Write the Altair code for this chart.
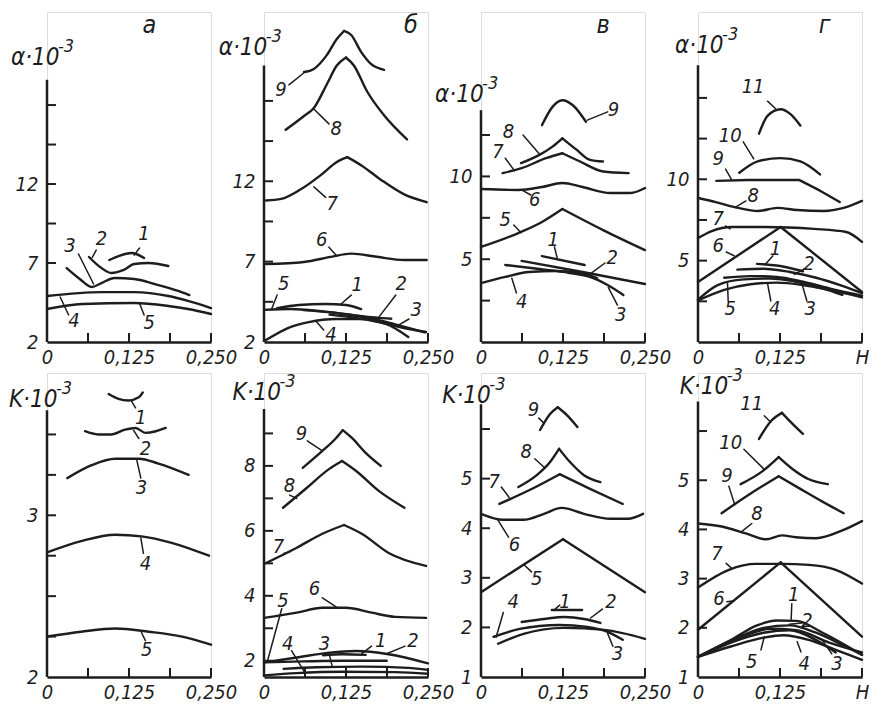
import altair as alt
import pandas as pd

FONT = "Liberation Sans Narrow, DejaVu Sans Condensed, Liberation Sans, sans-serif"
INK = "#1d1d1d"

# ---------------- data: top row (alpha * 10^-3) ----------------
A_ALPHA = {
    "1": ([0.095, 0.109, 0.129, 0.148], [7.19, 7.44, 7.63, 7.32]),
    "2": ([0.064, 0.083, 0.098, 0.117, 0.133, 0.155, 0.185], [7.38, 6.68, 6.37, 6.56, 6.94, 7.0, 6.81]),
    "3": ([0.030, 0.050, 0.068, 0.083, 0.103, 0.133, 0.164, 0.2, 0.217], [6.68, 5.99, 5.48, 5.73, 6.05, 5.99, 5.67, 5.23, 4.97]),
    "4": ([0.0, 0.083, 0.133, 0.185, 0.215, 0.25], [4.91, 5.16, 5.16, 4.91, 4.6, 4.15]),
    "5": ([0.0, 0.054, 0.133, 0.185, 0.215, 0.25], [4.09, 4.41, 4.47, 4.28, 4.09, 3.77]),
}
A_ALPHA_LABELS = [
    ("1", 0.148, 8.84, 0.141, 7.95, 0.133, 7.5),
    ("2", 0.083, 8.52, 0.075, 7.82, 0.069, 7.35),
    ("3", 0.035, 8.08, 0.048, 7.57, 0.071, 5.67),
    ("4", 0.041, 3.33, 0.033, 3.71, 0.020, 4.85),
    ("5", 0.156, 3.2, 0.148, 3.71, 0.141, 4.45),
]

B_ALPHA = {
    "9": ([0.061, 0.076, 0.096, 0.111, 0.122, 0.133, 0.148, 0.163, 0.183], [18.8, 18.99, 19.86, 20.85, 21.35, 21.1, 20.05, 19.3, 18.93]),
    "8": ([0.033, 0.061, 0.076, 0.096, 0.111, 0.125, 0.137, 0.157, 0.183, 0.218], [15.2, 16.06, 16.56, 18.05, 19.2, 19.7, 19.2, 17.6, 16.1, 14.6]),
    "7": ([0.003, 0.026, 0.056, 0.087, 0.111, 0.127, 0.148, 0.178, 0.213, 0.248], [10.8, 10.9, 11.5, 12.4, 13.2, 13.5, 13.0, 12.1, 11.2, 10.7]),
    "6": ([0.003, 0.061, 0.102, 0.133, 0.172, 0.213, 0.248], [6.85, 6.98, 7.3, 7.5, 7.3, 7.1, 7.1]),
    "5": ([0.0, 0.04, 0.08, 0.12, 0.16, 0.2, 0.245], [4.0, 4.05, 3.95, 3.75, 3.5, 3.1, 2.6]),
    "1": ([0.02, 0.053, 0.094, 0.125, 0.148], [4.1, 4.3, 4.36, 4.3, 4.05]),
    "2": ([0.06, 0.1, 0.14, 0.175, 0.194], [3.98, 3.85, 3.65, 3.5, 3.45]),
    "3": ([0.1, 0.14, 0.18, 0.21, 0.247], [3.7, 3.5, 3.2, 2.9, 2.62]),
    "4": ([0.003, 0.04, 0.068, 0.11, 0.145, 0.186, 0.22], [2.12, 2.93, 3.24, 3.43, 3.43, 3.12, 2.31]),
}
B_ALPHA_LABELS = [
    ("9", 0.026, 17.68, 0.038, 18.0, 0.061, 18.75),
    ("8", 0.110, 15.25, 0.099, 15.57, 0.076, 16.5),
    ("7", 0.104, 10.6, 0.094, 11.0, 0.076, 11.65),
    ("6", 0.088, 8.35, 0.099, 7.9, 0.111, 7.35),
    ("5", 0.030, 5.6, 0.020, 4.92, 0.012, 4.08),
    ("1", 0.142, 5.55, 0.133, 4.92, 0.117, 4.35),
    ("2", 0.209, 5.6, 0.201, 4.92, 0.175, 3.55),
    ("3", 0.232, 4.0, 0.221, 3.43, 0.203, 3.0),
    ("4", 0.102, 2.44, 0.091, 2.75, 0.079, 3.3),
]

C_ALPHA = {
    "9": ([0.093, 0.109, 0.124, 0.140, 0.160], [13.1, 14.2, 14.6, 14.3, 13.3]),
    "8": ([0.061, 0.089, 0.109, 0.124, 0.146, 0.166, 0.186], [10.8, 11.3, 11.8, 12.3, 11.6, 11.0, 10.9]),
    "7": ([0.033, 0.062, 0.099, 0.124, 0.151, 0.186, 0.225], [10.2, 10.5, 11.1, 11.4, 10.9, 10.3, 10.2]),
    "6": ([0.0, 0.057, 0.093, 0.124, 0.155, 0.197, 0.228, 0.25], [9.24, 9.18, 9.36, 9.6, 9.36, 9.0, 9.0, 9.3]),
    "5": ([0.0, 0.057, 0.093, 0.124, 0.186, 0.25], [5.74, 6.58, 7.25, 8.03, 6.76, 5.55]),
    "4": ([0.0, 0.037, 0.073, 0.115, 0.151, 0.177], [3.56, 3.93, 4.23, 4.29, 4.17, 3.86]),
    "3": ([0.037, 0.089, 0.135, 0.166, 0.193, 0.217], [4.65, 4.41, 4.17, 3.93, 3.44, 2.84]),
    "2": ([0.062, 0.155, 0.25], [4.9, 4.23, 3.5]),
    "1": ([0.093, 0.158], [5.19, 4.65]),
}
C_ALPHA_LABELS = [
    ("9", 0.202, 14.0, 0.193, 13.9, 0.162, 13.4),
    ("8", 0.042, 12.7, 0.064, 12.5, 0.089, 11.35),
    ("7", 0.026, 11.5, 0.037, 11.1, 0.051, 10.35),
    ("6", 0.082, 8.57, 0.076, 8.88, 0.061, 9.2),
    ("5", 0.037, 7.37, 0.050, 7.07, 0.061, 6.6),
    ("1", 0.110, 6.16, 0.112, 5.74, 0.116, 5.1),
    ("2", 0.200, 5.07, 0.189, 4.77, 0.166, 4.1),
    ("3", 0.213, 1.63, 0.208, 2.23, 0.194, 3.3),
    ("4", 0.062, 2.42, 0.054, 2.96, 0.047, 3.85),
]

D_ALPHA = {
    "11": ([0.093, 0.106, 0.126, 0.141, 0.156], [12.8, 13.9, 14.3, 14.0, 13.3]),
    "10": ([0.063, 0.091, 0.126, 0.156, 0.186], [10.4, 11.1, 11.3, 11.1, 10.3]),
    "9": ([0.028, 0.076, 0.154, 0.186, 0.216], [9.9, 9.96, 9.96, 9.3, 8.6]),
    "8": ([0.0, 0.027, 0.061, 0.091, 0.121, 0.151, 0.192, 0.222, 0.25], [8.85, 8.6, 8.24, 8.05, 8.24, 8.11, 8.05, 8.24, 8.67]),
    "7": ([0.0, 0.021, 0.051, 0.102, 0.177, 0.226, 0.25], [6.39, 6.82, 7.07, 7.07, 6.95, 6.76, 6.15]),
    "6": ([0.0, 0.126, 0.25], [3.69, 7.07, 3.07]),
    "1": ([0.09, 0.12, 0.16], [4.8, 4.7, 4.35]),
    "2": ([0.06, 0.1, 0.14, 0.18, 0.22, 0.25], [4.45, 4.5, 4.3, 3.95, 3.45, 3.0]),
    "3": ([0.04, 0.08, 0.12, 0.16, 0.2, 0.25], [3.95, 4.05, 4.0, 3.7, 3.3, 2.85]),
    "4": ([0.0, 0.04, 0.08, 0.12, 0.16, 0.2, 0.25], [2.55, 3.2, 3.55, 3.65, 3.5, 3.2, 2.75]),
    "5": ([0.0, 0.03, 0.07, 0.11, 0.15, 0.19, 0.22], [2.6, 3.5, 3.85, 3.9, 3.7, 3.3, 2.9]),
}
D_ALPHA_LABELS = [
    ("11", 0.084, 15.67, 0.106, 14.8, 0.118, 14.35),
    ("10", 0.049, 12.66, 0.069, 12.3, 0.085, 11.25),
    ("9", 0.031, 11.25, 0.042, 10.63, 0.051, 10.0),
    ("8", 0.084, 8.97, 0.073, 8.67, 0.058, 8.3),
    ("7", 0.031, 7.56, 0.042, 7.13, 0.049, 6.95),
    ("6", 0.031, 5.9, 0.043, 5.53, 0.055, 5.3),
    ("1", 0.118, 5.72, 0.114, 5.29, 0.103, 4.8),
    ("2", 0.169, 4.79, 0.162, 4.49, 0.147, 4.15),
    ("3", 0.171, 2.03, 0.166, 2.52, 0.159, 3.5),
    ("4", 0.117, 2.03, 0.111, 2.52, 0.106, 3.6),
    ("5", 0.049, 2.03, 0.046, 2.52, 0.045, 3.6),
]

# ---------------- data: bottom row (K * 10^-3) ----------------
A_K = {
    "1": ([0.094, 0.109, 0.124, 0.14, 0.146], [3.75, 3.72, 3.71, 3.73, 3.76]),
    "2": ([0.058, 0.078, 0.098, 0.119, 0.135, 0.15, 0.166, 0.181], [3.52, 3.5, 3.5, 3.53, 3.54, 3.51, 3.52, 3.54]),
    "3": ([0.031, 0.068, 0.104, 0.14, 0.17, 0.216], [3.23, 3.31, 3.35, 3.35, 3.32, 3.25]),
    "4": ([0.0, 0.052, 0.104, 0.144, 0.19, 0.247], [2.77, 2.84, 2.88, 2.87, 2.83, 2.75]),
    "5": ([0.0, 0.052, 0.104, 0.155, 0.206, 0.25], [2.25, 2.28, 2.3, 2.28, 2.25, 2.2]),
}
A_K_LABELS = [
    ("1", 0.143, 3.6, 0.135, 3.665, 0.129, 3.705),
    ("2", 0.150, 3.41, 0.140, 3.475, 0.132, 3.525),
    ("3", 0.144, 3.17, 0.143, 3.23, 0.137, 3.34),
    ("4", 0.150, 2.70, 0.147, 2.765, 0.143, 2.86),
    ("5", 0.152, 2.17, 0.150, 2.225, 0.144, 2.275),
]

B_K = {
    "9": ([0.059, 0.089, 0.11, 0.12, 0.134, 0.155, 0.178], [7.94, 8.46, 8.86, 9.1, 8.86, 8.4, 8.0]),
    "8": ([0.029, 0.065, 0.099, 0.119, 0.14, 0.175, 0.214], [6.71, 7.32, 7.9, 8.15, 7.85, 7.23, 6.71]),
    "7": ([0.0, 0.05, 0.089, 0.122, 0.149, 0.19, 0.247], [4.98, 5.48, 5.91, 6.18, 5.91, 5.32, 4.92]),
    "6": ([0.0, 0.05, 0.089, 0.125, 0.164, 0.2, 0.247], [3.32, 3.48, 3.63, 3.63, 3.48, 3.35, 3.32]),
    "5": ([0.0, 0.05, 0.1, 0.14, 0.19, 0.25], [1.95, 2.1, 2.25, 2.3, 2.2, 1.92]),
    "1": ([0.09, 0.12, 0.155], [2.17, 2.2, 2.18]),
    "2": ([0.0, 0.06, 0.12, 0.187], [1.95, 1.98, 2.0, 2.0]),
    "3": ([0.03, 0.08, 0.15, 0.22, 0.25], [1.75, 1.8, 1.82, 1.78, 1.72]),
    "4": ([0.0, 0.05, 0.12, 0.2, 0.25], [1.55, 1.62, 1.66, 1.65, 1.6]),
}
B_K_LABELS = [
    ("9", 0.057, 8.98, 0.066, 8.77, 0.089, 8.46),
    ("8", 0.039, 7.38, 0.039, 7.1, 0.05, 7.0),
    ("7", 0.022, 5.5, 0.03, 5.3, 0.04, 5.36),
    ("6", 0.077, 4.22, 0.089, 3.94, 0.110, 3.66),
    ("5", 0.029, 3.85, 0.027, 3.6, 0.005, 1.97),
    ("4", 0.036, 2.52, 0.042, 2.31, 0.062, 1.64),
    ("3", 0.092, 2.52, 0.099, 2.25, 0.104, 1.82),
    ("1", 0.178, 2.62, 0.164, 2.45, 0.149, 2.22),
    ("2", 0.227, 2.62, 0.215, 2.45, 0.185, 2.2),
]

C_K = {
    "9": ([0.09, 0.105, 0.117, 0.131, 0.147], [5.98, 6.3, 6.44, 6.28, 6.04]),
    "8": ([0.057, 0.085, 0.105, 0.119, 0.136, 0.157, 0.182], [4.83, 5.07, 5.33, 5.6, 5.33, 5.07, 4.93]),
    "7": ([0.028, 0.074, 0.12, 0.167, 0.216], [4.49, 4.77, 5.09, 4.79, 4.49]),
    "6": ([0.0, 0.034, 0.065, 0.096, 0.123, 0.157, 0.197, 0.224, 0.247], [4.29, 4.17, 4.17, 4.29, 4.41, 4.29, 4.19, 4.19, 4.29]),
    "5": ([0.0, 0.125, 0.25], [2.71, 3.78, 2.71]),
    "1": ([0.108, 0.154], [2.35, 2.35]),
    "2": ([0.062, 0.096, 0.127, 0.157, 0.182], [2.11, 2.17, 2.21, 2.17, 2.09]),
    "3": ([0.019, 0.059, 0.12, 0.162, 0.193, 0.216], [1.81, 1.97, 2.05, 2.01, 1.91, 1.75]),
    "4": ([0.026, 0.065, 0.127, 0.188, 0.25], [1.67, 1.87, 1.99, 1.95, 1.77]),
}
C_K_LABELS = [
    ("9", 0.080, 6.38, 0.088, 6.22, 0.096, 6.12),
    ("8", 0.069, 5.54, 0.082, 5.4, 0.097, 5.22),
    ("7", 0.020, 4.93, 0.031, 4.83, 0.043, 4.62),
    ("6", 0.051, 3.66, 0.042, 3.82, 0.026, 4.16),
    ("5", 0.085, 2.98, 0.077, 3.12, 0.066, 3.26),
    ("1", 0.128, 2.51, 0.120, 2.45, 0.113, 2.37),
    ("2", 0.198, 2.51, 0.185, 2.37, 0.167, 2.19),
    ("3", 0.208, 1.46, 0.201, 1.62, 0.193, 1.88),
    ("4", 0.049, 2.51, 0.034, 2.3, 0.023, 1.8),
]

D_K = {
    "11": ([0.093, 0.111, 0.128, 0.143, 0.16], [5.84, 6.2, 6.37, 6.16, 5.94]),
    "10": ([0.065, 0.098, 0.123, 0.143, 0.169, 0.198], [4.92, 5.18, 5.47, 5.24, 5.02, 4.92]),
    "9": ([0.036, 0.078, 0.123, 0.154, 0.189, 0.222], [4.33, 4.71, 5.08, 4.84, 4.57, 4.33]),
    "8": ([0.0, 0.036, 0.073, 0.104, 0.128, 0.149, 0.18, 0.22, 0.25], [4.12, 4.06, 3.92, 3.8, 3.88, 3.84, 3.82, 3.98, 4.17]),
    "7": ([0.0, 0.047, 0.088, 0.128, 0.169, 0.21, 0.25], [2.82, 3.18, 3.3, 3.3, 3.28, 3.18, 2.9]),
    "6": ([0.0, 0.126, 0.25], [1.96, 3.33, 1.82]),
    "1": ([0.0, 0.05, 0.09, 0.12, 0.15, 0.19, 0.25], [1.41, 1.75, 2.05, 2.15, 2.14, 1.9, 1.45]),
    "2": ([0.0, 0.06, 0.1, 0.14, 0.18, 0.22, 0.25], [1.41, 1.8, 2.0, 2.05, 1.9, 1.65, 1.45]),
    "3": ([0.0, 0.05, 0.1, 0.14, 0.18, 0.21], [1.41, 1.7, 1.9, 1.95, 1.75, 1.5]),
    "4": ([0.0, 0.05, 0.1, 0.13, 0.17, 0.21, 0.25], [1.41, 1.62, 1.8, 1.85, 1.75, 1.55, 1.35]),
    "5": ([0.0, 0.04, 0.08, 0.11, 0.15, 0.2, 0.25], [1.41, 1.65, 1.88, 1.98, 1.95, 1.7, 1.5]),
}
D_K_LABELS = [
    ("11", 0.082, 6.55, 0.101, 6.31, 0.111, 6.18),
    ("10", 0.050, 5.76, 0.070, 5.63, 0.101, 5.22),
    ("9", 0.044, 5.08, 0.047, 4.88, 0.056, 4.5),
    ("8", 0.090, 4.31, 0.082, 4.12, 0.067, 3.96),
    ("7", 0.029, 3.51, 0.043, 3.31, 0.052, 3.2),
    ("6", 0.032, 2.59, 0.044, 2.53, 0.055, 2.55),
    ("1", 0.146, 2.67, 0.143, 2.49, 0.142, 2.17),
    ("2", 0.166, 2.14, 0.158, 2.1, 0.139, 2.07),
    ("3", 0.212, 1.27, 0.204, 1.47, 0.189, 1.76),
    ("4", 0.162, 1.27, 0.157, 1.51, 0.151, 1.72),
    ("5", 0.082, 1.31, 0.096, 1.55, 0.101, 1.82),
]

# axes: [domain min, domain max], axis top, minor ticks, labelled values
Y_DOMAINS = {"a": [2, 22.89], "b": [2, 22.53], "c": [0, 19.93], "d": [0, 20.28],
             "ak": [2, 3.88], "bk": [1.5, 10.86], "ck": [1, 7.13], "dk": [1, 7.18]}
Y_TOPS = {"a": 18.6, "b": 19.2, "c": 14.0, "d": 17.0, "ak": 3.65, "bk": 9.75, "ck": 6.5, "dk": 6.6}
Y_TICKS = {"a": [7, 9.5, 12, 14.5, 17], "b": [4.5, 7, 9.5, 12, 14.5, 17],
           "c": [2.5, 5, 7.5, 10, 12.5], "d": [2.5, 5, 7.5, 10, 12.5, 15],
           "ak": [2.25, 2.5, 2.75, 3, 3.25, 3.5], "bk": [2, 3, 4, 5, 6, 7, 8, 9],
           "ck": [2, 3, 4, 5, 6], "dk": [2, 3, 4, 5, 6]}
Y_LABELS = {"a": [2, 7, 12], "b": [2, 7, 12], "c": [5, 10], "d": [5, 10],
            "ak": [2, 3], "bk": [2, 4, 6, 8], "ck": [1, 2, 3, 4, 5], "dk": [1, 2, 3, 4, 5]}
X_TICKS = [0.0625, 0.125, 0.1875, 0.25]
X_LABELS = [0, 0.125, 0.25]
# axis titles: (text, H, v); panel letters: (text, H, v)
TITLES = {"a": ("α·10", -0.055, 20.0), "b": ("α·10", -0.069, 20.3),
          "c": ("α·10", -0.07, 14.9), "d": ("α·10", -0.035, 18.2),
          "ak": ("K·10", -0.058, 3.71), "bk": ("K·10", -0.048, 10.25),
          "ck": ("K·10", -0.059, 6.66), "dk": ("K·10", -0.028, 6.9)}
LETTERS = {"a": ("а", 0.156, 22.07), "b": ("б", 0.224, 21.72), "c": ("в", 0.186, 19.15), "d": ("г", 0.193, 19.48)}
PEAKED = {"a": [], "b": ["7", "8", "9"], "c": ["5", "7", "8"], "d": ["6"],
          "ak": [], "bk": ["7", "8", "9"], "ck": ["5", "7", "8", "9"], "dk": ["6", "9", "10", "11"]}
LINEAR = {"d": ["9"]}


def panel(key, curves, labels, last_label, height):
    ydom = Y_DOMAINS[key]
    xs = alt.Scale(domain=[0, 0.25], nice=False, zero=False)
    ys = alt.Scale(domain=ydom, nice=False, zero=False)
    xaxis = alt.Axis(values=X_LABELS,
                     labelExpr=f"datum.value == 0 ? '0' : (datum.value < 0.2 ? '0,125' : '{last_label}')",
                     ticks=False, grid=False, domain=True, domainColor=INK, domainWidth=2.5,
                     labelFont=FONT, labelFontSize=20, labelFontStyle="italic", labelColor=INK,
                     labelPadding=5, labelFlush=False, labelOverlap=False, title=None)
    yaxis = alt.Axis(values=Y_LABELS[key], format="d", ticks=False, grid=False, domain=False,
                     labelFont=FONT, labelFontSize=20, labelFontStyle="italic", labelColor=INK,
                     labelPadding=9, labelOverlap=False, labelFlush=False, title=None)

    def enc(**extra):
        e = dict(x=alt.X("H:Q", scale=xs, axis=xaxis), y=alt.Y("v:Q", scale=ys, axis=yaxis))
        e.update(extra)
        return e

    rows = []
    for name, (hs, vs) in curves.items():
        mode = "lin" if name in LINEAR.get(key, []) else "mono"
        if name in PEAKED[key]:
            k = vs.index(max(vs))
            segs = [(hs[:k + 1], vs[:k + 1]), (hs[k:], vs[k:])]
        else:
            segs = [(hs, vs)]
        for si, (sh, sv) in enumerate(segs):
            for i, (h, v) in enumerate(zip(sh, sv)):
                rows.append(dict(key=f"{name}_{si}", H=h, v=v, i=i, mode=mode))
    cdf = pd.DataFrame(rows)

    layers = []
    for mode, interp in (("mono", "monotone"), ("lin", "linear")):
        sub = cdf[cdf["mode"] == mode]
        if len(sub):
            layers.append(alt.Chart(sub).mark_line(interpolate=interp, color=INK, strokeWidth=2.4,
                                                   strokeCap="round", strokeJoin="round")
                          .encode(**enc(detail="key:N", order="i:Q")))

    ldf = pd.DataFrame(labels, columns=["t", "H", "v", "H1", "v1", "H2", "v2"])
    lead = ldf[["H1", "v1", "H2", "v2"]].rename(columns={"H1": "H", "v1": "v"})
    layers.append(alt.Chart(lead).mark_rule(color=INK, strokeWidth=1.5, strokeCap="round")
                  .encode(**enc(x2="H2:Q", y2="v2:Q")))
    layers.append(alt.Chart(ldf[["t", "H", "v"]]).mark_text(font=FONT, fontSize=20, fontStyle="italic",
                                                         color=INK, baseline="middle", align="center")
                  .encode(**enc(text="t:N")))

    # axis line and ticks
    adf = pd.DataFrame({"H": [0.0], "v": [ydom[0]], "v2": [Y_TOPS[key]]})
    layers.append(alt.Chart(adf).mark_rule(color=INK, strokeWidth=2.5).encode(**enc(y2="v2:Q")))
    ytdf = pd.DataFrame({"H": [0.0] * len(Y_TICKS[key]), "v": Y_TICKS[key]})
    layers.append(alt.Chart(ytdf).mark_tick(orient="horizontal", size=9, thickness=2, color=INK,
                                            xOffset=4.5, opacity=1).encode(**enc()))
    xtdf = pd.DataFrame({"H": X_TICKS, "v": [ydom[0]] * len(X_TICKS)})
    layers.append(alt.Chart(xtdf).mark_tick(orient="vertical", size=9, thickness=2, color=INK,
                                            yOffset=-4.5, opacity=1).encode(**enc()))

    t, th, tv = TITLES[key]
    tdf = pd.DataFrame({"t": [t], "H": [th], "v": [tv]})
    layers.append(alt.Chart(tdf).mark_text(font=FONT, fontSize=24, fontStyle="italic", color=INK,
                                           align="left", baseline="middle").encode(**enc(text="t:N")))
    sdf = pd.DataFrame({"t": ["-3"], "H": [th], "v": [tv]})
    layers.append(alt.Chart(sdf).mark_text(font=FONT, fontSize=18, fontStyle="italic", color=INK,
                                           align="left", baseline="middle", dx=47, dy=-11)
                  .encode(**enc(text="t:N")))
    if key in LETTERS:
        lt, lh, lv = LETTERS[key]
        layers.append(alt.Chart(pd.DataFrame({"t": [lt], "H": [lh], "v": [lv]}))
                      .mark_text(font=FONT, fontSize=25, fontStyle="italic", color=INK, align="center",
                                 baseline="middle").encode(**enc(text="t:N")))
    return alt.layer(*layers).properties(width=164, height=height)


panels = [
    panel("a", A_ALPHA, A_ALPHA_LABELS, "0,250", 330),
    panel("b", B_ALPHA, B_ALPHA_LABELS, "0,250", 330),
    panel("c", C_ALPHA, C_ALPHA_LABELS, "0,250", 330),
    panel("d", D_ALPHA, D_ALPHA_LABELS, "H", 330),
    panel("ak", A_K, A_K_LABELS, "0,250", 304),
    panel("bk", B_K, B_K_LABELS, "0,250", 304),
    panel("ck", C_K, C_K_LABELS, "0,250", 304),
    panel("dk", D_K, D_K_LABELS, "H", 304),
]

chart = alt.concat(*panels, columns=4, spacing=alt.RowColnumber(row=31, column=53), bounds="flush").properties(
    padding={"left": 0, "top": 3, "right": 2, "bottom": 2}
).configure_view(stroke=None).configure(background="white")

chart.save("out.html", embed_options={"renderer": "svg", "actions": False})
